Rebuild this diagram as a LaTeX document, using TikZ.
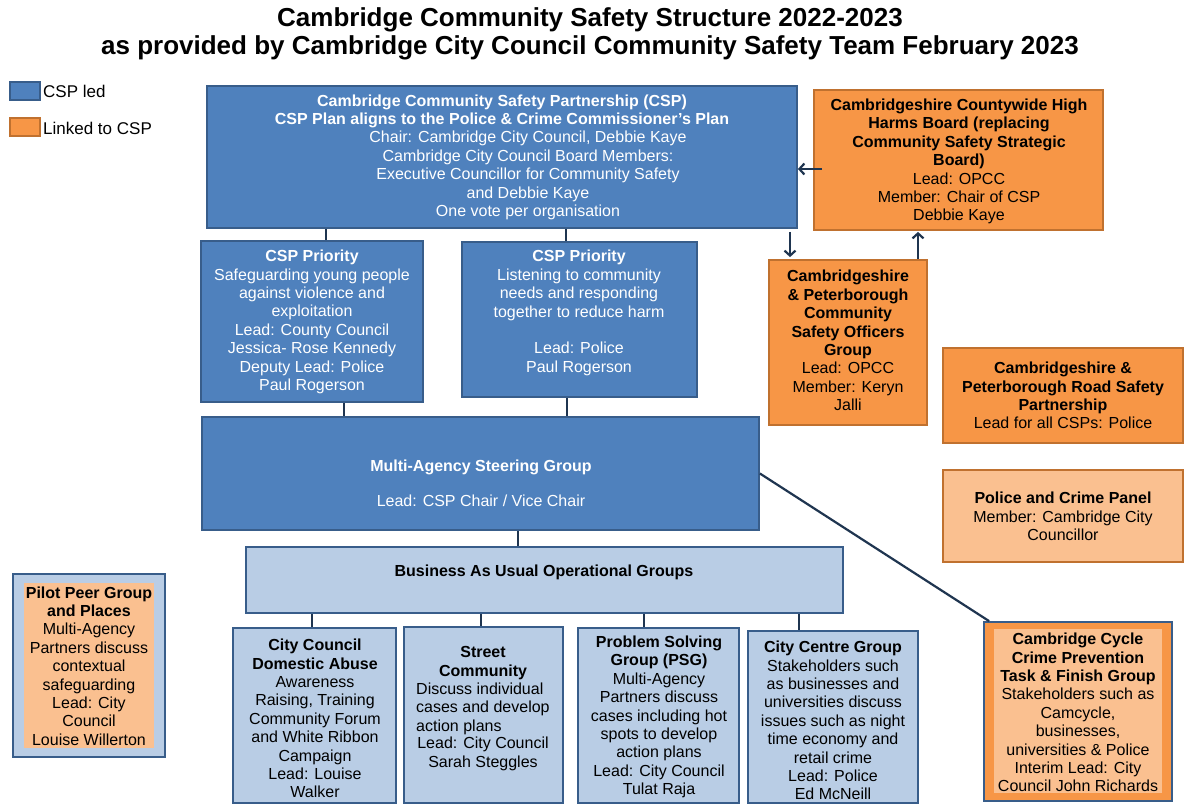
\documentclass[tikz,border=0pt]{standalone}
\usepackage{fontspec}
\setmainfont{Liberation Sans}
\usetikzlibrary{fit,calc,arrows.meta}
\definecolor{blueF}{HTML}{4F81BD}
\definecolor{blueD}{HTML}{385D8A}
\definecolor{lblue}{HTML}{B9CDE5}
\definecolor{orng}{HTML}{F79646}
\definecolor{orngD}{HTML}{C0712F}
\definecolor{lorng}{HTML}{FAC090}
\definecolor{lineC}{HTML}{1F3550}
\newcommand{\fsz}{\fontsize{16}{18.4}\selectfont}
\newcommand{\fsl}{\fontsize{17}{20}\selectfont}
\newcommand{\fst}{\fontsize{26}{28}\selectfont\bfseries}
\tikzset{
 bxb/.style={draw=blueD, line width=1.8pt, fill=blueF, inner sep=0pt},
 bxl/.style={draw=blueD, line width=1.8pt, fill=lblue, inner sep=0pt},
 bxo/.style={draw=orngD, line width=1.8pt, fill=orng, inner sep=0pt},
 bxlo/.style={draw=orngD, line width=1.8pt, fill=lorng, inner sep=0pt},
 fillonly/.style={fill=lorng, draw=none, inner sep=0pt},
 tw/.style={text=white, align=center, font=\fsz, inner sep=0pt},
 tb/.style={text=black, align=center, font=\fsz, inner sep=0pt},
 conn/.style={draw=lineC, line width=2.2pt},
 arr/.style={draw=lineC, line width=2.2pt, -{Straight Barb[length=5pt,width=11pt]}},
}
\begin{document}
\begin{tikzpicture}[x=1pt,y=-1pt]
\useasboundingbox (0,0) rectangle (1185,805);
\fill[white] (0,0) rectangle (1185,805);

% title
\node[tb, font=\fst] (title) at (590,34) {Cambridge Community Safety Structure 2022-2023\\as provided by Cambridge City Council Community Safety Team February 2023};

% legend
\node[bxb, fit={(10,82)(40,100)}] (legB) {};
\node[bxo, fit={(10,118)(40,136)}] (legO) {};
\node[tb, font=\fsl, anchor=west] (legBt) at (43,91) {CSP led};
\node[tb, font=\fsl, anchor=west] (legOt) at (43,128) {Linked to CSP};

% helper x coordinates
\coordinate (x326) at (326,0);
\coordinate (x566) at (566,0);
\coordinate (x344) at (344,0);
\coordinate (x567) at (567,0);
\coordinate (x518) at (518,0);
\coordinate (x312) at (312,0);
\coordinate (x481) at (481,0);
\coordinate (x644) at (644,0);
\coordinate (x799) at (799,0);
\coordinate (x790) at (790,0);
\coordinate (x918) at (918,0);
\coordinate (y169) at (0,169);

% CSP
\node[bxb, fit={(207,86)(797,228)}] (csp) {};
\node[tw] (csph) at (502,111.5) {\textbf{Cambridge Community Safety Partnership (CSP)}\\\textbf{CSP Plan aligns to the Police \& Crime Commissioner's Plan}};
\node[tw] (cspb) at (528,175.5) {Chair: Cambridge City Council, Debbie Kaye\\Cambridge City Council Board Members:\\Executive Councillor for Community Safety\\and Debbie Kaye\\One vote per organisation};

% priorities
\node[bxb, fit={(201,241)(423,402)}] (p1) {};
\node[tw] (p1t) at (312,322) {\textbf{CSP Priority}\\Safeguarding young people\\against violence and\\exploitation\\Lead: County Council\\Jessica- Rose Kennedy\\Deputy Lead: Police\\Paul Rogerson};
\node[bxb, fit={(462,242)(697,397)}] (p2) {};
\node[tw] (p2t) at (579,313) {\textbf{CSP Priority}\\Listening to community\\needs and responding\\together to reduce harm\\[18.4pt]Lead: Police\\Paul Rogerson};

% MASG
\node[bxb, fit={(202,417)(759,530)}] (masg) {};
\node[tw] (masgt) at (481,483.5) {\textbf{Multi-Agency Steering Group}\\[16.6pt]Lead: CSP Chair / Vice Chair};

% BAU
\node[bxl, fit={(246,547)(843,613)}] (bau) {};
\node[tb] (baut) at (544,572) {\textbf{Business As Usual Operational Groups}};

% bottom groups
\node[bxl, fit={(233,628)(396,803)}] (da) {};
\node[tb] (dat) at (315,718.5) {\textbf{City Council}\\\textbf{Domestic Abuse}\\Awareness\\Raising, Training\\Community Forum\\and White Ribbon\\Campaign\\Lead: Louise\\Walker};

\node[bxl, fit={(404,627)(563,803)}] (sc) {};
\node[tb] (scth) at (483,663) {\textbf{Street}\\\textbf{Community}};
\node[tb, align=left, anchor=west] (sctb) at (416,708.5) {Discuss individual\\cases and develop\\action plans};
\node[tb] (sctl) at (483,754) {Lead: City Council\\Sarah Steggles};

\node[bxl, fit={(578,628)(739,803)}] (psg) {};
\node[tb] (psgt) at (659,717) {\textbf{Problem Solving}\\\textbf{Group (PSG)}\\Multi-Agency\\Partners discuss\\cases including hot\\spots to develop\\action plans\\Lead: City Council\\Tulat Raja};

\node[bxl, fit={(748,631)(918,803)}] (cc) {};
\node[tb] (cct) at (833,720.5) {\textbf{City Centre Group}\\Stakeholders such\\as businesses and\\universities discuss\\issues such as night\\time economy and\\retail crime\\Lead: Police\\Ed McNeill};

% pilot
\node[bxl, fit={(13,574)(165,757)}] (pil) {};
\node[fillonly, fit={(24,583)(154,748)}] (pili) {};
\node[tb] (pilt) at (89,666) {\textbf{Pilot Peer Group}\\\textbf{and Places}\\Multi-Agency\\Partners discuss\\contextual\\safeguarding\\Lead: City\\Council\\Louise Willerton};

% right side
\node[bxo, fit={(814,90)(1103,230)}] (hh) {};
\node[tb] (hht) at (959,161.5) {\textbf{Cambridgeshire Countywide High}\\\textbf{Harms Board  (replacing}\\\textbf{Community Safety Strategic}\\\textbf{Board)}\\Lead: OPCC\\Member: Chair of CSP\\Debbie Kaye};

\node[bxo, fit={(769,260)(927,425)}] (off) {};
\node[tb] (offt) at (848,340.5) {\textbf{Cambridgeshire}\\\textbf{\& Peterborough}\\\textbf{Community}\\\textbf{Safety Officers}\\\textbf{Group}\\Lead: OPCC\\Member: Keryn\\Jalli};

\node[bxo, fit={(943,348)(1183,443)}] (road) {};
\node[tb] (roadt) at (1063,395.5) {\textbf{Cambridgeshire \&}\\\textbf{Peterborough Road Safety}\\\textbf{Partnership}\\Lead for all CSPs: Police};

\node[bxlo, fit={(943,470)(1183,562)}] (pcp) {};
\node[tb] (pcpt) at (1063,516.5) {\textbf{Police and Crime Panel}\\Member: Cambridge City\\Councillor};

\node[draw=blueD, line width=1.8pt, fill=orng, inner sep=0pt, fit={(984,622)(1172,801)}] (cyc) {};
\node[fillonly, fit={(994,629)(1162,793)}] (cyci) {};
\node[tb] (cyct) at (1078,712.5) {\textbf{Cambridge Cycle}\\\textbf{Crime Prevention}\\\textbf{Task \& Finish Group}\\Stakeholders such as\\Camcycle,\\businesses,\\universities \& Police\\Interim Lead: City\\Council John Richards};

% connectors
\draw[conn] (x326 |- csp.south) -- (x326 |- p1.north);
\draw[conn] (x566 |- csp.south) -- (x566 |- p2.north);
\draw[conn] (x344 |- p1.south) -- (x344 |- masg.north);
\draw[conn] (x567 |- p2.south) -- (x567 |- masg.north);
\draw[conn] (x518 |- masg.south) -- (x518 |- bau.north);
\draw[conn] (x312 |- bau.south) -- (x312 |- da.north);
\draw[conn] (x481 |- bau.south) -- (x481 |- sc.north);
\draw[conn] (x644 |- bau.south) -- (x644 |- psg.north);
\draw[conn] (x799 |- bau.south) -- (x799 |- cc.north);
\draw[conn] (masg.east) -- ($(cyc.north west)+(6,0)$);

% arrows
\draw[arr] ($(hh.west |- y169)+(9,0)$) -- (csp.east |- y169);
\draw[arr, shorten >=2pt] ($(x790 |- csp.south)+(0,3)$) -- (x790 |- off.north);
\draw[arr, shorten >=1pt] (x918 |- off.north) -- (x918 |- hh.south);
\end{tikzpicture}
\end{document}
